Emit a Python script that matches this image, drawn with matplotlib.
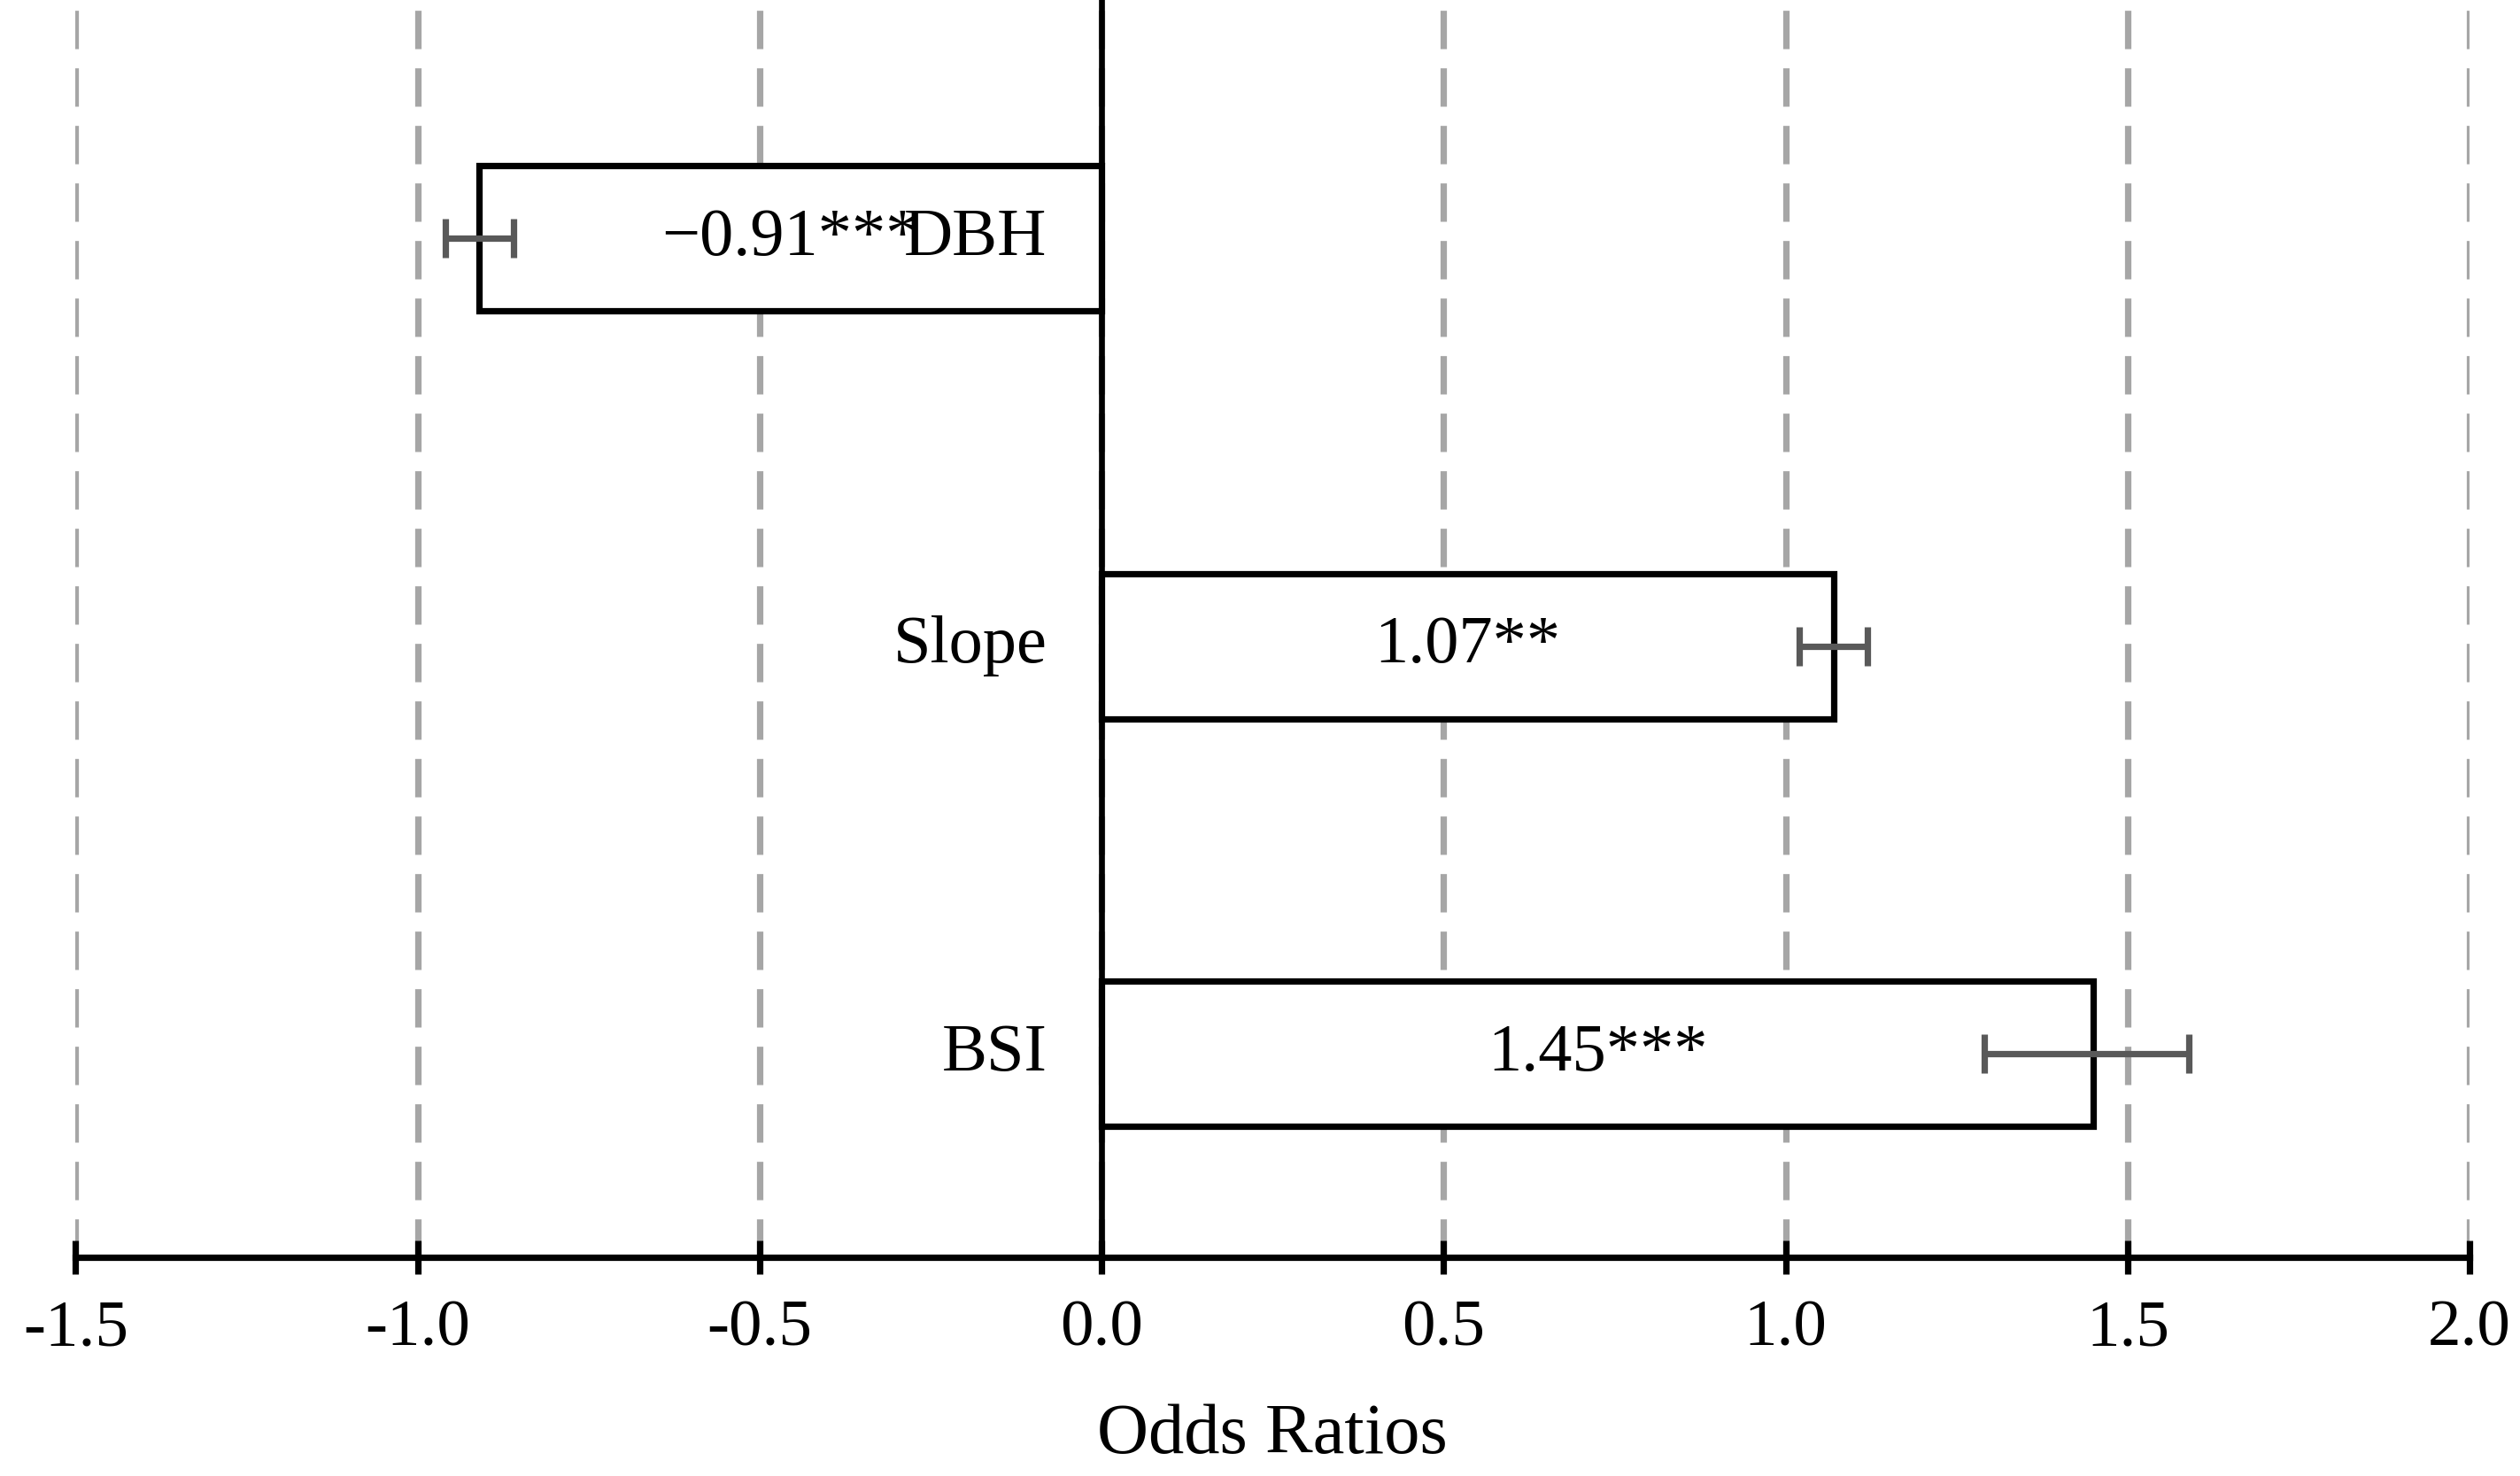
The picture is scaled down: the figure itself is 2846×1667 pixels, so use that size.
import matplotlib
matplotlib.use("Agg")
import matplotlib.pyplot as plt

categories = ["BSI", "Slope", "DBH"]
values = [1.45, 1.07, -0.91]
err_low = [1.29, 1.02, -0.96]
err_high = [1.59, 1.12, -0.86]
labels = ["1.45***", "1.07**", "\u22120.91***"]
xticks = [-1.5, -1.0, -0.5, 0.0, 0.5, 1.0, 1.5, 2.0]

plt.rcParams['font.family'] = ['Liberation Serif', 'DejaVu Serif']
fig = plt.figure(figsize=(14.23, 8.335), dpi=200)
ax = fig.add_axes([0.030, 0.148, 0.950, 0.852])
ypos = list(range(len(categories)))
for x in xticks:
    ax.axvline(x, color='#a6a6a6', ls=(0, (6, 3)), lw=2.6, zorder=0)
ax.barh(ypos, values, height=0.356, color='white', edgecolor='black', lw=2.6, zorder=2)
for y, v, lo, hi, lab, cat in zip(ypos, values, err_low, err_high, labels, categories):
    c = (lo + hi) / 2
    ax.errorbar(c, y, xerr=(hi - lo) / 2, fmt='none', ecolor='#595959', elinewidth=2.6,
                capsize=8, capthick=2.6, zorder=3)
    ax.text(v / 2, y, lab, ha='center', va='center', fontsize=27.5, zorder=4)
    ax.text(-0.08, y, cat, ha='right', va='center', fontsize=27.5, zorder=4)
ax.axvline(0, color='black', lw=2.4, zorder=3)
ax.set_xlim(-1.5, 2.0)
ax.set_ylim(-0.5, 2.585)
ax.set_xticks(xticks)
ax.set_xticklabels([f"{t:.1f}" for t in xticks], fontsize=27)
ax.set_yticks([])
for s in ['top', 'right', 'left']:
    ax.spines[s].set_visible(False)
ax.spines['bottom'].set_linewidth(2.6)
ax.tick_params(axis='x', direction='inout', length=14, width=2.6, pad=10)
ax.set_xlabel("Odds Ratios", fontsize=29, labelpad=18)
fig.savefig("out.png", dpi=200)
